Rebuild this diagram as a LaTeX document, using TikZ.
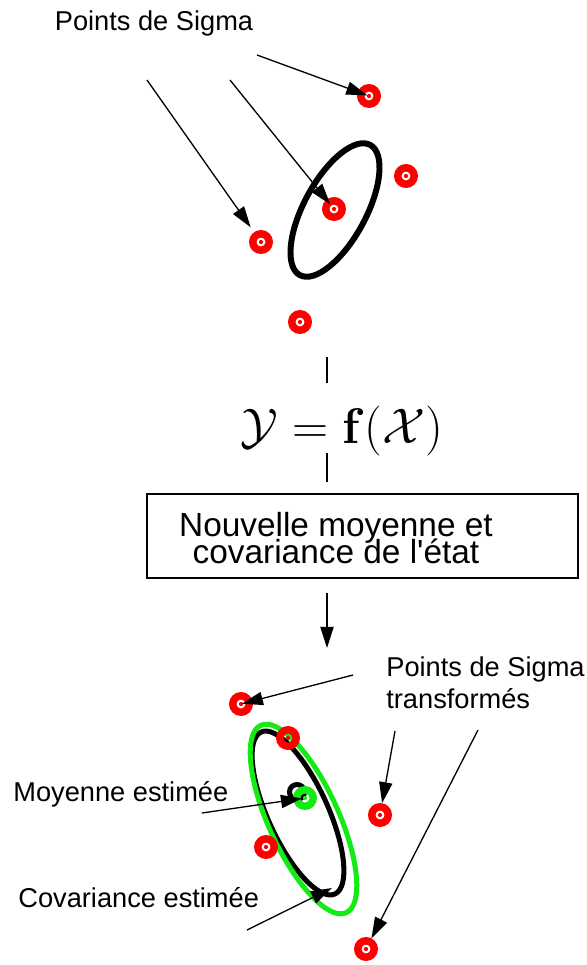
\RequirePackage{fix-cm}
\documentclass[tikz,border=0pt]{standalone}
\usepackage[no-math]{fontspec}
\setmainfont{Liberation Sans}
\usepackage{amsmath,amssymb}
\usepackage{xcolor}
\usepackage{tikz}
\usetikzlibrary{arrows.meta,calc}

\definecolor{vertvif}{RGB}{20,235,20}
\newcommand{\texteserre}{\fontsize{19}{15.5}\selectfont\lineskiplimit=-20pt\relax}

\tikzset{
  sigmapt/.style={circle, draw=#1, line width=4.25pt, minimum size=9.35pt, inner sep=0pt,
    path picture={\fill[#1] (path picture bounding box.center) circle (1.2pt);}},
  sigmapt/.default=red,
  fleche/.style={-{Triangle[length=12pt,width=7.5pt]}, line width=0.75pt},
  etiquette/.style={font=\fontsize{15.5}{18.6}\selectfont, inner sep=0pt},
}

\begin{document}
\begin{tikzpicture}[x=0.02cm, y=0.02cm]
  \useasboundingbox (0,0) rectangle (587,-965);

  % Before: sigma points around the prior ellipse
  \node[etiquette, anchor=base] (titre) at (154,-30) {Points de Sigma};
  \draw[line width=3.4pt, shift={(335,-210)}, rotate=61.6] (0,0) ellipse [x radius=74, y radius=31];
  \foreach \n/\x/\y in {1/369/96, 2/406/176, 3/334/209, 4/261/242, 5/300/322}
    \node[sigmapt] (s\n) at (\x,-\y) {};
  \coordinate (d1) at (257,-55);
  \coordinate (d2) at (147,-80);
  \coordinate (d3) at (230,-80);
  \draw[fleche, shorten >=1pt] (d1) -- (s1.center);
  \draw[fleche, shorten >=3.4pt] (d2) -- (s4);
  \draw[fleche, shorten >=3.4pt] (d3) -- (s3.center);

  % Transformation
  \node[inner sep=0pt, font=\fontsize{28.5}{30}\selectfont] (eq) at (342,-431) {$\mathcal{Y}=\mathbf{f}(\mathcal{X})$};
  \coordinate (h1) at (327,-357);
  \coordinate (h2) at (327,-453);
  \draw[line width=0.8pt] (h1) -- ++(0,-26);
  \draw[line width=0.8pt] (h2) -- ++(0,-29);
  \node[draw, line width=0.8pt, minimum width=8.62cm, minimum height=1.68cm] (etat) at (362.5,-536) {};
  \node[font=\texteserre, align=center, inner sep=0pt] (etattxt) at (336,-538)
    {Nouvelle moyenne et\\covariance de l\textquotesingle état};
  \coordinate (b1) at (327,-593);
  \coordinate (b2) at (327,-648);
  \draw[fleche] (b1) -- (b2);

  % After: transformed points, estimated mean and covariance
  \draw[line width=2.85pt, shift={(298,-813)}, rotate=-65.5] (0,0) ellipse [x radius=89, y radius=30];
  \draw[vertvif, line width=2.85pt, shift={(303.5,-819)}, rotate=-65.5] (0,0) ellipse [x radius=103, y radius=35];
  \draw[line width=2.85pt] (297,-792) circle [radius=7.5];
  \node[sigmapt=vertvif] (moy) at (305,-798) {};
  \foreach \n/\x/\y in {1/241/704, 2/288/738, 3/380/815, 4/266/847, 5/366/949}
    \node[sigmapt] (t\n) at (\x,-\y) {};

  \node[etiquette, anchor=north west, align=left] (ltr) at (386,-656) {Points de Sigma\\transformés};
  \node[etiquette, anchor=base west] (lmoy) at (13,-801) {Moyenne estimée};
  \node[etiquette, anchor=base west] (lcov) at (18,-907) {Covariance estimée};

  \coordinate (e1) at (353,-675);
  \coordinate (e2) at (395,-731);
  \coordinate (e3) at (478,-730);
  \coordinate (m0) at (202,-813);
  \coordinate (c0) at (247,-930);
  \coordinate (c1) at (332,-888);
  \draw[fleche, shorten >=0.5pt] (e1) -- (t1.center);
  \draw[fleche] (e2) -- (t3);
  \draw[fleche] (e3) -- (t5);
  \draw[fleche, shorten >=1.7pt] (m0) -- (moy.center);
  \draw[fleche] (c0) -- (c1);
\end{tikzpicture}
\end{document}
